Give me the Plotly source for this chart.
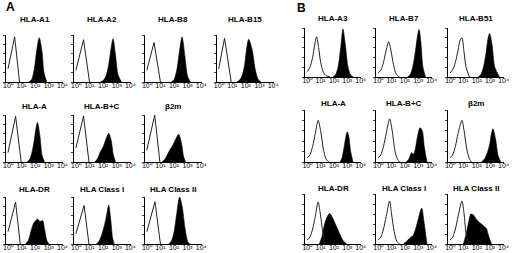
import plotly.graph_objects as go

W, H = 520, 253

# ---------------- tick labels ----------------
TICK_VALS = [0, 1, 2, 3, 4]
TICK_TEXT = ["10⁰", "10¹", "10²", "10³", "10⁴"]

# ---------------- panel titles ----------------
A_TITLES = ["HLA-A1", "HLA-A2", "HLA-B8", "HLA-B15",
            "HLA-A", "HLA-B+C", "β2m",
            "HLA-DR", "HLA Class I", "HLA Class II"]
B_TITLES = ["HLA-A3", "HLA-B7", "HLA-B51",
            "HLA-A", "HLA-B+C", "β2m",
            "HLA-DR", "HLA Class I", "HLA Class II"]

# ---------------- data: x = log10 fluorescence, y = % of max count ----------------
# Panel A
A_A1_iso_x = [0, 0.49, 0.85];  A_A1_iso_y = [28, 96, 0]
A_A1_fl_x = [1.55, 1.75, 1.95, 2.1, 2.3, 2.5, 2.65, 2.85]
A_A1_fl_y = [0, 6, 30, 65, 94, 65, 20, 0]

A_A2_iso_x = [0, 0.56, 1.0];  A_A2_iso_y = [25, 90, 0]
A_A2_fl_x = [1.8, 2.0, 2.2, 2.4, 2.6, 2.73, 2.9, 3.1, 3.35]
A_A2_fl_y = [0, 3, 12, 35, 75, 92, 60, 15, 0]

A_B8_iso_x = [0, 0.53, 1.0];  A_B8_iso_y = [25, 84, 0]
A_B8_fl_x = [1.8, 2.0, 2.2, 2.4, 2.59, 2.8, 3.0, 3.2]
A_B8_fl_y = [0, 5, 25, 65, 96, 55, 12, 0]

A_B15_iso_x = [0, 0.43, 0.92];  A_B15_iso_y = [28, 93, 0]
A_B15_fl_x = [1.3, 1.5, 1.7, 1.9, 2.05, 2.2, 2.45, 2.7, 2.9, 3.1]
A_B15_fl_y = [0, 3, 12, 35, 70, 91, 70, 25, 6, 0]

A_A_iso_x = [0, 0.56, 0.97];  A_A_iso_y = [20, 97, 0]
A_A_fl_x = [1.4, 1.6, 1.8, 1.95, 2.05, 2.17, 2.35, 2.5, 2.68]
A_A_fl_y = [0, 6, 25, 50, 70, 84, 55, 15, 0]

A_BC_iso_x = [0, 0.56, 0.96];  A_BC_iso_y = [30, 98, 0]
A_BC_fl_x = [1.4, 1.6, 1.8, 2.0, 2.2, 2.41, 2.6, 2.75, 2.92]
A_BC_fl_y = [0, 8, 22, 32, 48, 61, 45, 15, 0]

A_B2M_iso_x = [0, 0.58, 0.96];  A_B2M_iso_y = [25, 100, 0]
A_B2M_fl_x = [1.1, 1.3, 1.5, 1.7, 1.9, 2.1, 2.34, 2.55, 2.7, 2.85]
A_B2M_fl_y = [0, 5, 15, 26, 35, 47, 59, 40, 12, 0]

A_DR_iso_x = [0, 0.56, 0.9];  A_DR_iso_y = [26, 89, 0]
A_DR_fl_x = [1.3, 1.5, 1.7, 1.9, 2.05, 2.17, 2.35, 2.54, 2.7, 2.85, 3.0]
A_DR_fl_y = [0, 8, 28, 45, 50, 53, 48, 50, 30, 8, 0]

A_C1_iso_x = [0, 0.6, 0.96];  A_C1_iso_y = [22, 82, 0]
A_C1_fl_x = [1.5, 1.7, 1.9, 2.1, 2.25, 2.41, 2.55, 2.7, 2.82]
A_C1_fl_y = [0, 6, 20, 40, 60, 83, 55, 12, 0]

A_C2_iso_x = [0, 0.6, 1.0];  A_C2_iso_y = [26, 90, 0]
A_C2_fl_x = [1.6, 1.8, 2.0, 2.2, 2.41, 2.6, 2.8, 3.0, 3.15]
A_C2_fl_y = [0, 6, 25, 65, 100, 80, 35, 6, 0]

# Panel B
B_A3_iso_x = [0, 0.2, 0.4, 0.55, 0.69, 0.85, 1.0, 1.2, 1.4, 1.7]
B_A3_iso_y = [11, 20, 40, 65, 82, 60, 30, 10, 3, 0]
B_A3_fl_x = [1.9, 2.1, 2.3, 2.5, 2.67, 2.85, 3.05, 3.25, 3.45]
B_A3_fl_y = [0, 4, 20, 60, 98, 65, 20, 4, 0]

B_B7_iso_x = [0, 0.2, 0.4, 0.6, 0.79, 0.95, 1.15, 1.35, 1.6]
B_B7_iso_y = [8, 14, 30, 55, 72, 55, 25, 6, 0]
B_B7_fl_x = [2.2, 2.4, 2.6, 2.8, 2.95, 3.06, 3.2, 3.35, 3.55]
B_B7_fl_y = [0, 5, 22, 55, 85, 97, 70, 20, 0]

B_B51_iso_x = [0, 0.2, 0.4, 0.6, 0.75, 0.89, 1.05, 1.2, 1.45]
B_B51_iso_y = [8, 15, 30, 55, 75, 80, 50, 20, 0]
B_B51_fl_x = [2.1, 2.3, 2.5, 2.7, 2.85, 2.96, 3.15, 3.35, 3.7]
B_B51_fl_y = [0, 5, 20, 50, 80, 89, 65, 20, 0]

B_A_iso_x = [0, 0.2, 0.4, 0.6, 0.81, 1.0, 1.2, 1.4, 1.6]
B_A_iso_y = [8, 14, 30, 55, 80, 60, 25, 6, 0]
B_A_fl_x = [2.45, 2.6, 2.75, 2.9, 2.99, 3.1, 3.25, 3.42]
B_A_fl_y = [0, 8, 28, 50, 58, 50, 20, 0]

B_BC_iso_x = [0, 0.2, 0.4, 0.6, 0.86, 1.05, 1.25, 1.45, 1.6]
B_BC_iso_y = [8, 14, 30, 55, 83, 60, 22, 5, 0]
B_BC_fl_x = [2.1, 2.3, 2.5, 2.65, 2.8, 2.95, 3.13, 3.3, 3.45, 3.65]
B_BC_fl_y = [0, 6, 18, 15, 28, 50, 66, 60, 30, 0]

B_B2M_iso_x = [0, 0.2, 0.4, 0.6, 0.89, 1.05, 1.25, 1.45, 1.6]
B_B2M_iso_y = [8, 14, 30, 55, 80, 60, 25, 6, 0]
B_B2M_fl_x = [2.35, 2.55, 2.75, 2.95, 3.1, 3.21, 3.4, 3.6, 3.8]
B_B2M_fl_y = [0, 5, 15, 32, 55, 64, 45, 12, 0]

B_DR_iso_x = [0, 0.2, 0.4, 0.6, 0.81, 0.95, 1.1, 1.3]
B_DR_iso_y = [8, 14, 30, 55, 84, 65, 35, 0]
B_DR_fl_x = [0.9, 1.1, 1.3, 1.5, 1.68, 1.9, 2.1, 2.3, 2.5, 2.7, 2.95]
B_DR_fl_y = [0, 15, 40, 55, 61, 52, 40, 28, 16, 6, 0]

B_C1_iso_x = [0, 0.2, 0.4, 0.6, 0.86, 1.0, 1.2, 1.4, 1.6]
B_C1_iso_y = [8, 14, 30, 55, 86, 60, 25, 5, 0]
B_C1_fl_x = [1.9, 2.1, 2.3, 2.45, 2.6, 2.8, 3.0, 3.15, 3.26, 3.45, 3.65]
B_C1_fl_y = [0, 5, 10, 14, 16, 30, 50, 65, 72, 40, 0]

B_C2_iso_x = [0, 0.2, 0.4, 0.6, 0.89, 1.05, 1.2, 1.4]
B_C2_iso_y = [8, 14, 30, 55, 86, 60, 20, 0]
B_C2_fl_x = [1.0, 1.2, 1.4, 1.56, 1.75, 1.95, 2.15, 2.35, 2.55, 2.7, 2.9, 3.1]
B_C2_fl_y = [0, 20, 45, 60, 58, 50, 44, 40, 35, 32, 15, 0]

A_DATA = [
    (A_A1_iso_x, A_A1_iso_y, A_A1_fl_x, A_A1_fl_y),
    (A_A2_iso_x, A_A2_iso_y, A_A2_fl_x, A_A2_fl_y),
    (A_B8_iso_x, A_B8_iso_y, A_B8_fl_x, A_B8_fl_y),
    (A_B15_iso_x, A_B15_iso_y, A_B15_fl_x, A_B15_fl_y),
    (A_A_iso_x, A_A_iso_y, A_A_fl_x, A_A_fl_y),
    (A_BC_iso_x, A_BC_iso_y, A_BC_fl_x, A_BC_fl_y),
    (A_B2M_iso_x, A_B2M_iso_y, A_B2M_fl_x, A_B2M_fl_y),
    (A_DR_iso_x, A_DR_iso_y, A_DR_fl_x, A_DR_fl_y),
    (A_C1_iso_x, A_C1_iso_y, A_C1_fl_x, A_C1_fl_y),
    (A_C2_iso_x, A_C2_iso_y, A_C2_fl_x, A_C2_fl_y),
]
B_DATA = [
    (B_A3_iso_x, B_A3_iso_y, B_A3_fl_x, B_A3_fl_y),
    (B_B7_iso_x, B_B7_iso_y, B_B7_fl_x, B_B7_fl_y),
    (B_B51_iso_x, B_B51_iso_y, B_B51_fl_x, B_B51_fl_y),
    (B_A_iso_x, B_A_iso_y, B_A_fl_x, B_A_fl_y),
    (B_BC_iso_x, B_BC_iso_y, B_BC_fl_x, B_BC_fl_y),
    (B_B2M_iso_x, B_B2M_iso_y, B_B2M_fl_x, B_B2M_fl_y),
    (B_DR_iso_x, B_DR_iso_y, B_DR_fl_x, B_DR_fl_y),
    (B_C1_iso_x, B_C1_iso_y, B_C1_fl_x, B_C1_fl_y),
    (B_C2_iso_x, B_C2_iso_y, B_C2_fl_x, B_C2_fl_y),
]

# ---------------- layout geometry (pixels) ----------------
A_COLS = [3, 72, 144, 217]
A_ROWS = [(35, 82, 19), (115, 162, 106), (197, 244, 189)]   # top, bottom, title y
A_GRID = [(0, 0), (0, 1), (0, 2), (0, 3), (1, 0), (1, 1), (1, 2), (2, 0), (2, 1), (2, 2)]
A_W = 58
B_COLS = [307, 379, 452]
B_ROWS = [(28, 77, 18), (110, 162, 103), (194, 244, 188)]
B_GRID = [(r, c) for r in range(3) for c in range(3)]
B_W = 57

fig = go.Figure()
annotations = []
layout_axes = {}
idx = [0]


def add_panel(title, data, left, top, bottom, width, title_y, iso_shape):
    idx[0] += 1
    n = idx[0]
    xa = "x" if n == 1 else f"x{n}"
    ya = "y" if n == 1 else f"y{n}"
    xkey = "xaxis" if n == 1 else f"xaxis{n}"
    ykey = "yaxis" if n == 1 else f"yaxis{n}"
    iso_x, iso_y, fl_x, fl_y = data
    fig.add_trace(go.Scatter(x=fl_x, y=fl_y, xaxis=xa, yaxis=ya, mode="lines",
                             line=dict(color="black", width=0.6, shape="spline", smoothing=0.8),
                             fill="tozeroy", fillcolor="black", hoverinfo="skip",
                             showlegend=False))
    fig.add_trace(go.Scatter(x=iso_x, y=iso_y, xaxis=xa, yaxis=ya, mode="lines",
                             line=dict(color="#222", width=1, shape=iso_shape, smoothing=0.8),
                             hoverinfo="skip", showlegend=False))
    layout_axes[xkey] = dict(domain=[left / W, (left + width) / W], anchor=ya,
                             range=[-0.15, 4.05], showgrid=False, zeroline=False,
                             showline=True, linecolor="black", linewidth=1,
                             tickvals=TICK_VALS, ticktext=TICK_TEXT, ticks="",
                             ticklabelstandoff=-3,
                             tickfont=dict(size=7, color="black", family="Liberation Sans"),
                             fixedrange=True)
    layout_axes[ykey] = dict(domain=[1 - bottom / H, 1 - top / H], anchor=xa,
                             range=[0, 100], showgrid=False, zeroline=False,
                             showline=True, linecolor="black", linewidth=1,
                             ticks="outside", ticklen=2, tickwidth=0.6, dtick=20,
                             showticklabels=False, fixedrange=True)
    annotations.append(dict(text=f"<b>{title}</b>", x=(left + width / 2) / W,
                            y=1 - title_y / H, xref="paper", yref="paper",
                            showarrow=False, xanchor="center", yanchor="middle",
                            font=dict(size=8, color="black", family="Liberation Sans")))


for (r, c), title, data in zip(A_GRID, A_TITLES, A_DATA):
    top, bottom, ty = A_ROWS[r]
    add_panel(title, data, A_COLS[c], top, bottom, A_W, ty, "linear")

for (r, c), title, data in zip(B_GRID, B_TITLES, B_DATA):
    top, bottom, ty = B_ROWS[r]
    add_panel(title, data, B_COLS[c], top, bottom, B_W, ty, "spline")

annotations.append(dict(text="<b>A</b>", x=1 / W, y=1 - 7 / H, xref="paper", yref="paper",
                        showarrow=False, xanchor="left", yanchor="middle",
                        font=dict(size=12, color="black", family="Liberation Sans")))
annotations.append(dict(text="<b>B</b>", x=297 / W, y=1 - 8 / H, xref="paper", yref="paper",
                        showarrow=False, xanchor="left", yanchor="middle",
                        font=dict(size=12, color="black", family="Liberation Sans")))

fig.update_layout(width=W, height=H, margin=dict(l=0, r=0, t=0, b=0),
                  paper_bgcolor="white", plot_bgcolor="white",
                  annotations=annotations, **layout_axes)

fig.write_html("out.html", config={"displayModeBar": False},
               post_script="document.body.style.margin='0px';")
